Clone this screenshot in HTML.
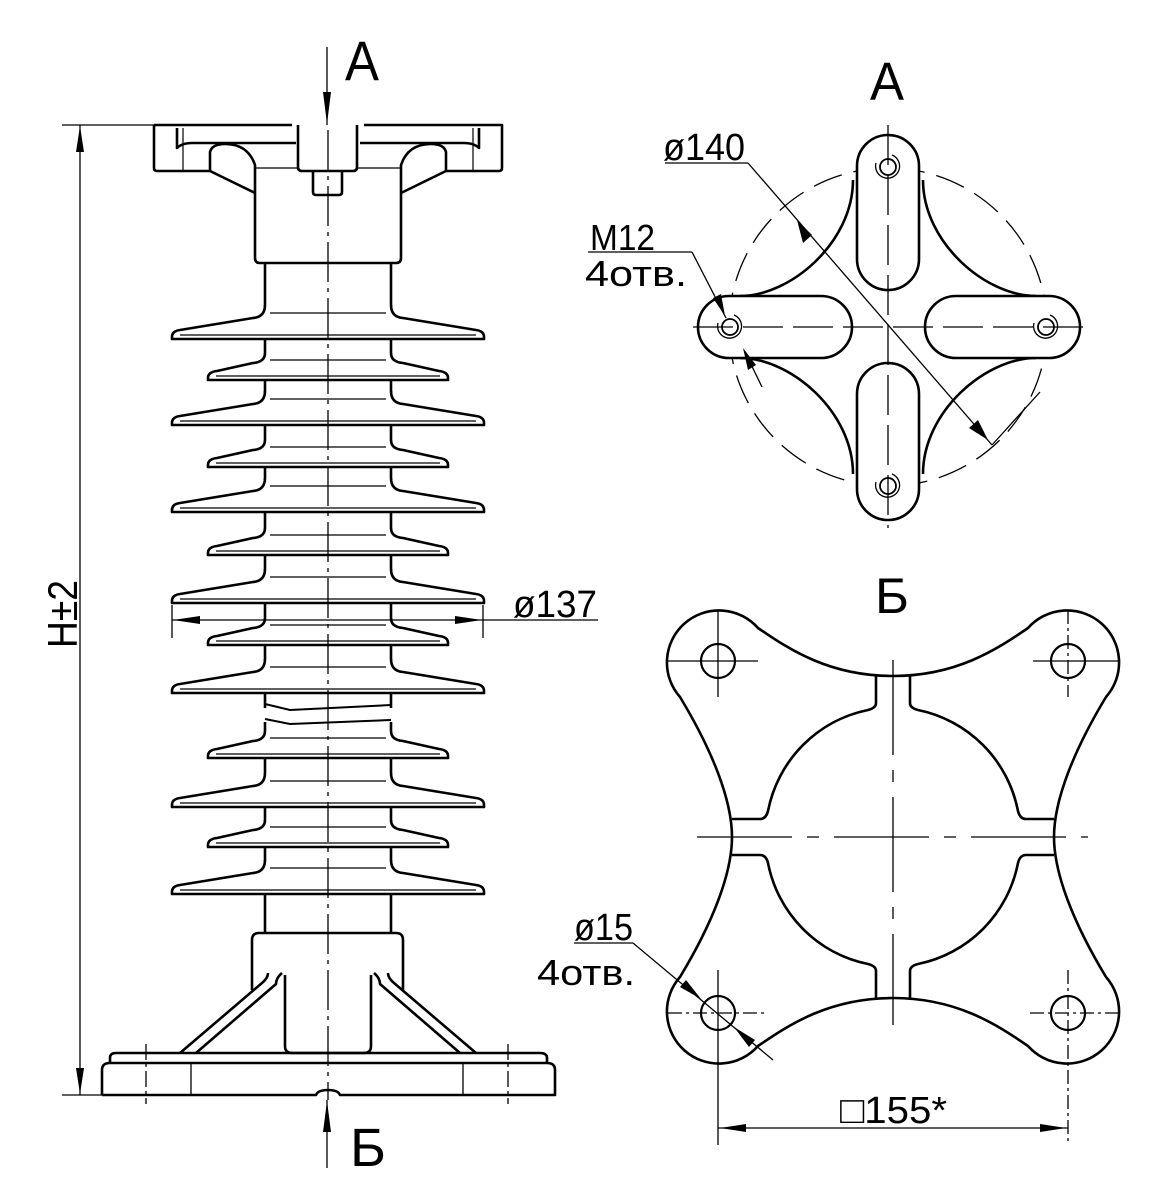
<!DOCTYPE html>
<html><head><meta charset="utf-8"><style>html,body{margin:0;padding:0;background:#fff}svg{display:block}</style></head>
<body>
<svg width="1154" height="1200" viewBox="0 0 1154 1200" xmlns="http://www.w3.org/2000/svg" font-family="Liberation Sans, sans-serif">
<defs>
<g id="big" stroke="#000" stroke-width="2.6" stroke-linejoin="round">
<path d="M265,-34 Q265,-22 253,-21 L180,-9 Q172,-8 172,-2 L172,0 L484,0 L484,-2 Q484,-8 476,-9 L403,-21 Q391,-22 391,-34" fill="#fff"/>
<line x1="180" y1="-4" x2="476" y2="-4" stroke-width="1.2"/>
<line x1="270" y1="-26" x2="386" y2="-26" stroke-width="1.2"/>
</g>
<g id="small" stroke="#000" stroke-width="2.6" stroke-linejoin="round">
<path d="M265,-27 Q265,-18 253,-17 L217,-9 Q208,-8 208,-2 L208,0 L448,0 L448,-2 Q448,-8 439,-9 L403,-17 Q391,-18 391,-27" fill="#fff"/>
<line x1="216" y1="-4" x2="440" y2="-4" stroke-width="1.2"/>
<line x1="270" y1="-20" x2="386" y2="-20" stroke-width="1.2"/>
</g>
</defs>
<rect width="1154" height="1200" fill="#fff"/>

<g stroke="#000" stroke-width="2.6" fill="none">
<line x1="265" y1="263" x2="265" y2="933"/>
<line x1="391" y1="263" x2="391" y2="933"/>
</g>
<rect x="262" y="708" width="132" height="14" fill="#fff"/>
<g stroke="#000" stroke-width="2" fill="none">
<path d="M265,704 L290,710 L391,705"/>
<path d="M265,719 L290,724 L391,720"/>
</g>

<use href="#big" transform="translate(0,339)"/>
<use href="#small" transform="translate(0,380)"/>
<use href="#big" transform="translate(0,425)"/>
<use href="#small" transform="translate(0,467)"/>
<use href="#big" transform="translate(0,512)"/>
<use href="#small" transform="translate(0,555)"/>
<use href="#big" transform="translate(0,603)"/>
<use href="#small" transform="translate(0,645)"/>
<use href="#big" transform="translate(0,693)"/>
<use href="#small" transform="translate(0,758)"/>
<use href="#big" transform="translate(0,807)"/>
<use href="#small" transform="translate(0,847)"/>
<use href="#big" transform="translate(0,894)"/>

<!-- top fitting -->
<g stroke="#000" stroke-width="2.6" fill="none" stroke-linejoin="round">
<path d="M154,125 L292,125 M364,125 L502,125 L502,168 Q502,171 499,171 L474,171 M154,125 L154,168 Q154,171 157,171 L210,171"/>
<path d="M177,128 L177,148 Q182,143 192,143 L296,143 M479,128 L479,148 Q474,143 464,143 L360,143"/>
<path d="M210,171 L210,152 Q212,144 225,144 Q248,144 255,165 L255,258 Q255,263 260,263 L396,263 Q401,263 401,258 L401,165 Q408,144 431,144 Q444,144 446,152 L446,171 L474,171"/>
<path d="M210,171 L255,193 M446,171 L401,193"/>
<path d="M298,125 L298,167 Q298,171 302,171 L353,171 Q357,171 357,167 L357,125"/>
<path d="M313,171 L313,192 Q313,195 316,195 L339,195 Q342,195 342,192 L342,171"/>
<path d="M255,168 L298,168 M357,168 L401,168" stroke-width="1.2"/>
</g>
<g stroke="#000" stroke-width="1.2">
<line x1="183" y1="128" x2="183" y2="171"/><line x1="473" y1="128" x2="473" y2="171"/>
</g>

<!-- bottom fitting -->
<g stroke="#000" stroke-width="2.6" fill="none" stroke-linejoin="round">
<path d="M252,990 L252,940 Q252,933 259,933 L396,933 Q403,933 403,940 L403,990"/>
<path d="M268,973 Q268,978 262,983 L180,1053 M282,973 Q276,978 276,984 L196,1053"/>
<path d="M388,973 Q388,978 394,983 L476,1053 M374,973 Q380,978 380,984 L460,1053"/>
<path d="M285,975 L285,1046 Q285,1053 292,1053 L364,1053 Q371,1053 371,1046 L371,975"/>
<path d="M110,1063 L110,1058 Q110,1053 116,1053 L540,1053 Q547,1053 547,1058 L547,1063"/>
<path d="M102,1095 L102,1070 Q102,1063 110,1063 L547,1063 Q555,1063 555,1070 L555,1095 L340,1095 Q338,1090 328,1090 Q318,1090 316,1095 L102,1095"/>
</g>
<g stroke="#000" stroke-width="1.3">
<line x1="191" y1="1063" x2="191" y2="1095"/><line x1="463" y1="1063" x2="463" y2="1095"/>
<line x1="146" y1="1044" x2="146" y2="1104" stroke-dasharray="16,4,3,4"/>
<line x1="508" y1="1044" x2="508" y2="1104" stroke-dasharray="16,4,3,4"/>
</g>

<line x1="328" y1="130" x2="328" y2="1100" stroke="#000" stroke-width="1.3" stroke-dasharray="40,6,4,6"/>

<g stroke="#000" stroke-width="1.3">
<line x1="327" y1="47" x2="327" y2="125"/>
<line x1="327" y1="1100" x2="327" y2="1168"/>
</g>
<polygon points="327,124 323,92 331,92"/>
<polygon points="327,1101 323,1132 331,1132"/>
<text x="345" y="80" font-size="56" textLength="34" lengthAdjust="spacingAndGlyphs">A</text>
<text x="350" y="1166" font-size="54" textLength="36" lengthAdjust="spacingAndGlyphs">Б</text>

<g stroke="#000" stroke-width="1.3">
<line x1="62" y1="125" x2="154" y2="125"/>
<line x1="62" y1="1095" x2="102" y2="1095"/>
<line x1="80" y1="125" x2="80" y2="1095"/>
</g>
<polygon points="80,126 76,152 84,152"/>
<polygon points="80,1094 76,1068 84,1068"/>
<text transform="translate(77,648) rotate(-90)" font-size="42" textLength="68" lengthAdjust="spacingAndGlyphs">H±2</text>

<g stroke="#000" stroke-width="1.3">
<line x1="172" y1="605" x2="172" y2="638"/>
<line x1="483" y1="605" x2="483" y2="638"/>
<line x1="172" y1="620" x2="598" y2="620"/>
</g>
<polygon points="173,620 200,616 200,624"/>
<polygon points="482,620 455,616 455,624"/>
<text x="513" y="617" font-size="38" textLength="84" lengthAdjust="spacingAndGlyphs">ø137</text>

<!-- VIEW A -->
<text x="870" y="100" font-size="54" textLength="34" lengthAdjust="spacingAndGlyphs">A</text>
<circle cx="888" cy="327" r="159" fill="none" stroke="#000" stroke-width="1.3" stroke-dasharray="30,12"/>
<g stroke="#000" stroke-width="2.6" fill="#fff">
<path d="M853,180 C853,242 791,296 740,296 M923,180 C923,242 985,296 1036,296 M853,474 C853,412 791,358 740,358 M923,474 C923,412 985,358 1036,358" fill="none"/>
<rect x="857" y="135" width="62" height="155" rx="31"/>
<rect x="857" y="363" width="62" height="157" rx="31"/>
<rect x="698" y="296" width="154" height="62" rx="31"/>
<rect x="925" y="296" width="155" height="62" rx="31"/>
</g>
<g stroke="#000" stroke-width="1.3" fill="none">
<line x1="693" y1="327" x2="1085" y2="327" stroke-dasharray="40,10"/>
<line x1="888" y1="125" x2="888" y2="528" stroke-dasharray="40,10"/>
<circle cx="888" cy="167" r="8" stroke-width="1.8"/><path d="M876,163 A12,12 0 1 0 892,155"/>
<circle cx="888" cy="486" r="8" stroke-width="1.8"/><path d="M876,482 A12,12 0 1 0 892,474"/>
<circle cx="730" cy="327" r="8" stroke-width="1.8"/><path d="M718,323 A12,12 0 1 0 734,315"/>
<circle cx="1046" cy="327" r="8" stroke-width="1.8"/><path d="M1034,323 A12,12 0 1 0 1050,315"/>
<line x1="665" y1="163" x2="748" y2="163"/>
<line x1="748" y1="163" x2="992" y2="445"/>
<line x1="992" y1="445" x2="1040" y2="392"/>
<line x1="588" y1="252" x2="692" y2="252"/>
<line x1="692" y1="252" x2="726" y2="318"/>
<line x1="762" y1="387" x2="745" y2="352"/>
</g>
<polygon points="797,220 803,243 812,235"/>
<polygon points="988,440 969,428 978,420"/>
<polygon points="725,316 713,298 721,294"/>
<polygon points="743,348 748,370 756,365"/>
<text x="663" y="160" font-size="38" textLength="82" lengthAdjust="spacingAndGlyphs">ø140</text>
<text x="590" y="250" font-size="36" textLength="65" lengthAdjust="spacingAndGlyphs">M12</text>
<text x="585" y="286" font-size="36" textLength="102" lengthAdjust="spacingAndGlyphs">4отв.</text>

<!-- VIEW Б -->
<text x="875" y="613" font-size="50" textLength="34" lengthAdjust="spacingAndGlyphs">Б</text>
<g stroke="#000" stroke-width="2.6" fill="none" stroke-linejoin="round">
<path d="M893,676 C830,676 790,650 758,628 A52,52 0 1 0 680,697 C712,750 732,800 732,837
C732,874 712,924 680,977 A52,52 0 1 0 758,1046 C790,1024 830,998 893,998
C956,998 996,1024 1028,1046 A52,52 0 1 0 1106,977 C1074,924 1054,874 1054,837
C1054,800 1074,750 1106,697 A52,52 0 1 0 1028,628 C996,650 956,676 893,676 Z"/>
<path d="M876,676 L876,703 Q876,708 868,710 A128,128 0 0 0 768,811 Q766,819 760,819 L732,819"/>
<path d="M910,676 L910,703 Q910,708 918,710 A128,128 0 0 1 1018,811 Q1020,819 1026,819 L1054,819"/>
<path d="M876,998 L876,971 Q876,966 868,964 A128,128 0 0 1 768,863 Q766,855 760,855 L732,855"/>
<path d="M910,998 L910,971 Q910,966 918,964 A128,128 0 0 0 1018,863 Q1020,855 1026,855 L1054,855"/>
</g>
<g stroke="#000" stroke-width="2.2" fill="none">
<circle cx="718" cy="661" r="17"/><circle cx="1068" cy="661" r="17"/>
<circle cx="718" cy="1013" r="17"/><circle cx="1068" cy="1013" r="17"/>
</g>
<g stroke="#000" stroke-width="1.3" fill="none">
<line x1="697" y1="837" x2="1088" y2="837" stroke-dasharray="95,15,12,15"/>
<line x1="893" y1="660" x2="893" y2="1025" stroke-dasharray="95,15,12,15"/>
<line x1="667" y1="661" x2="758" y2="661"/><line x1="718" y1="610" x2="718" y2="697"/>
<line x1="1033" y1="661" x2="1118" y2="661"/><line x1="1068" y1="610" x2="1068" y2="697" stroke-dasharray="14,4,3,4"/>
<line x1="668" y1="1013" x2="765" y2="1013" stroke-dasharray="14,4,3,4"/>
<line x1="1030" y1="1013" x2="1120" y2="1013" stroke-dasharray="14,4,3,4"/>
<line x1="1068" y1="970" x2="1068" y2="1145" stroke-dasharray="14,4,3,4"/>
<line x1="718" y1="970" x2="718" y2="1145"/>
<line x1="718" y1="1128" x2="1068" y2="1128"/>
<line x1="574" y1="943" x2="633" y2="943"/>
<line x1="633" y1="943" x2="773" y2="1060"/>
</g>
<polygon points="720,1128 746,1124 746,1132"/>
<polygon points="1066,1128 1040,1124 1040,1132"/>
<polygon points="701,999 680,987 686,980"/>
<polygon points="734,1027 755,1040 749,1047"/>
<text x="574" y="940" font-size="38" textLength="59" lengthAdjust="spacingAndGlyphs">ø15</text>
<text x="537" y="985" font-size="36" textLength="98" lengthAdjust="spacingAndGlyphs">4отв.</text>
<text x="840" y="1123" font-size="38" textLength="107" lengthAdjust="spacingAndGlyphs">□155*</text>
</svg>
</body></html>
